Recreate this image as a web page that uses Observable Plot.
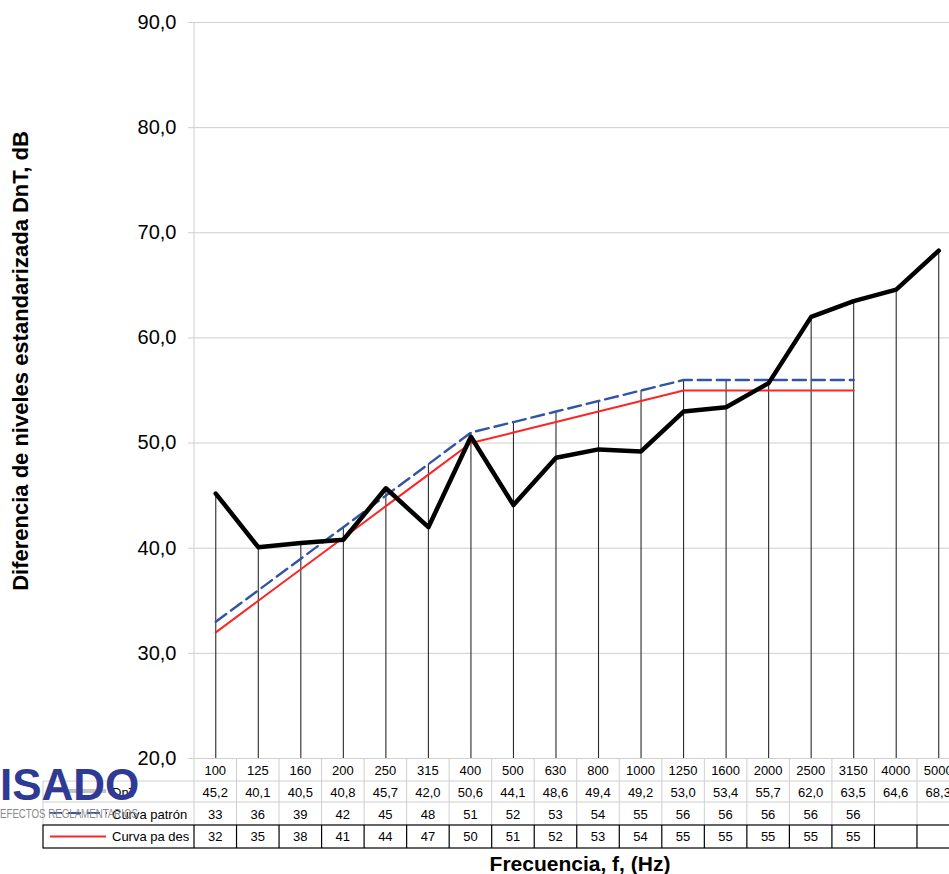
<!DOCTYPE html>
<html>
<head>
<meta charset="utf-8">
<script src="https://cdn.jsdelivr.net/npm/d3@7"></script>
<script src="https://cdn.jsdelivr.net/npm/@observablehq/plot@0.6"></script>
<style>
  html, body { margin: 0; padding: 0; background: #fff; overflow: hidden; }
  #chart svg { display: block; font-family: "Liberation Sans", Arial, sans-serif; }
</style>
</head>
<body>
<div id="chart"></div>
<script>
// ---- data ----
const freqLabels = ["100","125","160","200","250","315","400","500","630","800","1000","1250","1600","2000","2500","3150","4000","5000"];
const dnt        = [45.2, 40.1, 40.5, 40.8, 45.7, 42.0, 50.6, 44.1, 48.6, 49.4, 49.2, 53.0, 53.4, 55.7, 62.0, 63.5, 64.6, 68.3];
const patron     = [33, 36, 39, 42, 45, 48, 51, 52, 53, 54, 55, 56, 56, 56, 56, 56];
const desplazada = [32, 35, 38, 41, 44, 47, 50, 51, 52, 53, 54, 55, 55, 55, 55, 55];
const yTicks     = [20, 30, 40, 50, 60, 70, 80, 90];
const rowLabels  = ["DnT", "Curva patrón", "Curva pa des"];
const yTitle     = "Diferencia de niveles estandarizada DnT, dB";
const xTitle     = "Frecuencia, f, (Hz)";
const logoText   = "ISADO";
const logoSub    = "EFECTOS REGLAMENTARIOS";

// ---- tables built from the arrays ----
const dntData = freqLabels.map((f, i) => ({f, v: dnt[i]}));
const patData = patron.map((v, i) => ({f: freqLabels[i], v}));
const desData = desplazada.map((v, i) => ({f: freqLabels[i], v}));
const dropData = freqLabels.map((f, i) => ({
  f, top: Math.max(dnt[i], patron[i] ?? -Infinity, desplazada[i] ?? -Infinity)
}));
const fmt1 = v => v.toFixed(1).replace(".", ",");

const FONT = "Liberation Sans, Arial, sans-serif";

const chart = Plot.plot({
  width: 949,
  height: 874,
  marginLeft: 194,
  marginRight: 0,
  marginTop: 22,
  marginBottom: 116,
  style: {fontFamily: FONT, background: "#fff"},
  x: {type: "point", domain: freqLabels, range: [194, 959.5], padding: 0.5, round: false, axis: null},
  y: {domain: [20, 90]},
  marks: [
    Plot.gridY({ticks: yTicks, stroke: "#cfcfcf", strokeOpacity: 1, strokeWidth: 1}),
    Plot.axisY({ticks: yTicks, tickSize: 6, tickPadding: 12, stroke: "#cfcfcf", strokeOpacity: 1,
                fill: "#000", fontSize: 20, tickFormat: fmt1, label: null}),
    Plot.ruleX(dropData, {x: "f", y1: 20, y2: "top", stroke: "#2a2a2a", strokeWidth: 1.1}),
    Plot.line(patData, {x: "f", y: "v", stroke: "#3253a6", strokeWidth: 2.4, strokeDasharray: "13,6"}),
    Plot.line(desData, {x: "f", y: "v", stroke: "#ff2424", strokeWidth: 2}),
    Plot.line(dntData, {x: "f", y: "v", stroke: "#000", strokeWidth: 4.5, strokeLinejoin: "round"})
  ]
});
document.getElementById("chart").appendChild(chart);

// ---- table, titles and logo, positioned with the chart's own scales ----
const xs = chart.scale("x");
const ys = chart.scale("y");
const svg = d3.select(chart);
const X = f => xs.apply(f);
const step = X(freqLabels[1]) - X(freqLabels[0]);
const xLeft = X(freqLabels[0]) - step / 2;
const xRight = X(freqLabels[freqLabels.length - 1]) + step / 2;
const y0 = ys.apply(20);
const rowTop = [y0 + 1, y0 + 23, y0 + 44, y0 + 67, y0 + 90];
const labelLeft = 43;
const grey = "#cfcfcf";

const g = svg.append("g").attr("text-anchor", "start");
// left axis line
g.append("line").attr("x1", xLeft).attr("x2", xLeft)
  .attr("y1", ys.apply(90)).attr("y2", y0).attr("stroke", grey);

// grey grid of rows 1-3
const bounds = freqLabels.map(f => X(f) - step / 2).concat([xRight]);
bounds.forEach(bx => {
  g.append("line").attr("x1", bx).attr("x2", bx).attr("y1", y0).attr("y2", rowTop[3]).attr("stroke", grey);
});
g.append("line").attr("x1", labelLeft).attr("x2", labelLeft).attr("y1", rowTop[1]).attr("y2", rowTop[3]).attr("stroke", grey);
[rowTop[1], rowTop[2]].forEach(yy => {
  g.append("line").attr("x1", labelLeft).attr("x2", xRight).attr("y1", yy).attr("y2", yy).attr("stroke", grey);
});
g.append("line").attr("x1", xLeft).attr("x2", xRight).attr("y1", y0 + 0.5).attr("y2", y0 + 0.5).attr("stroke", grey);

// black row 4
g.append("rect").attr("x", labelLeft).attr("y", rowTop[3]).attr("width", xRight - labelLeft)
  .attr("height", rowTop[4] - rowTop[3]).attr("fill", "none").attr("stroke", "#000").attr("stroke-width", 1.2);
bounds.forEach(bx => {
  g.append("line").attr("x1", bx).attr("x2", bx).attr("y1", rowTop[3]).attr("y2", rowTop[4])
    .attr("stroke", "#000").attr("stroke-width", 1.2);
});

// cell texts
const baselines = [y0 + 17, y0 + 39, y0 + 60.5, y0 + 83];
const cellText = (txt, x, y) => g.append("text").attr("x", x).attr("y", y)
  .attr("text-anchor", "middle").attr("font-size", 13).attr("fill", "#000").text(txt);
freqLabels.forEach((f, i) => {
  cellText(f, X(f), baselines[0]);
  cellText(fmt1(dnt[i]), X(f), baselines[1]);
  if (patron[i] !== undefined) cellText(String(patron[i]), X(f), baselines[2]);
  if (desplazada[i] !== undefined) cellText(String(desplazada[i]), X(f), baselines[3]);
});

// legend keys
const keyY = [y0 + 33, y0 + 55, y0 + 78.5];
g.append("line").attr("x1", 49).attr("x2", 106).attr("y1", keyY[0]).attr("y2", keyY[0])
  .attr("stroke", "#c4c4c4").attr("stroke-width", 4);
g.append("line").attr("x1", 49).attr("x2", 107).attr("y1", keyY[1]).attr("y2", keyY[1])
  .attr("stroke", "#3253a6").attr("stroke-width", 2).attr("stroke-dasharray", "13,6");
g.append("line").attr("x1", 50).attr("x2", 106).attr("y1", keyY[2]).attr("y2", keyY[2])
  .attr("stroke", "#ff2424").attr("stroke-width", 2);
rowLabels.forEach((t, i) => {
  g.append("text").attr("x", 112).attr("y", baselines[i + 1]).attr("font-size", 13)
    .attr("text-anchor", "start").attr("fill", "#000").text(t);
});

// logo
g.append("text").attr("x", 0).attr("y", y0 + 42).attr("font-size", 44).attr("font-weight", "bold")
  .attr("text-anchor", "start").attr("fill", "#2e3a94").text(logoText);
g.append("text").attr("x", 0).attr("y", y0 + 60).attr("font-size", 12.5).attr("fill", "#8a8a8a")
  .attr("text-anchor", "start").attr("textLength", 138).attr("lengthAdjust", "spacingAndGlyphs").text(logoSub);

// axis titles
g.append("text").attr("transform", `translate(28,361) rotate(-90)`).attr("text-anchor", "middle")
  .attr("font-size", 22).attr("font-weight", "bold").attr("fill", "#000").text(yTitle);
g.append("text").attr("x", 580).attr("y", 871).attr("text-anchor", "middle")
  .attr("font-size", 21).attr("font-weight", "bold").attr("fill", "#000").text(xTitle);
</script>
</body>
</html>
